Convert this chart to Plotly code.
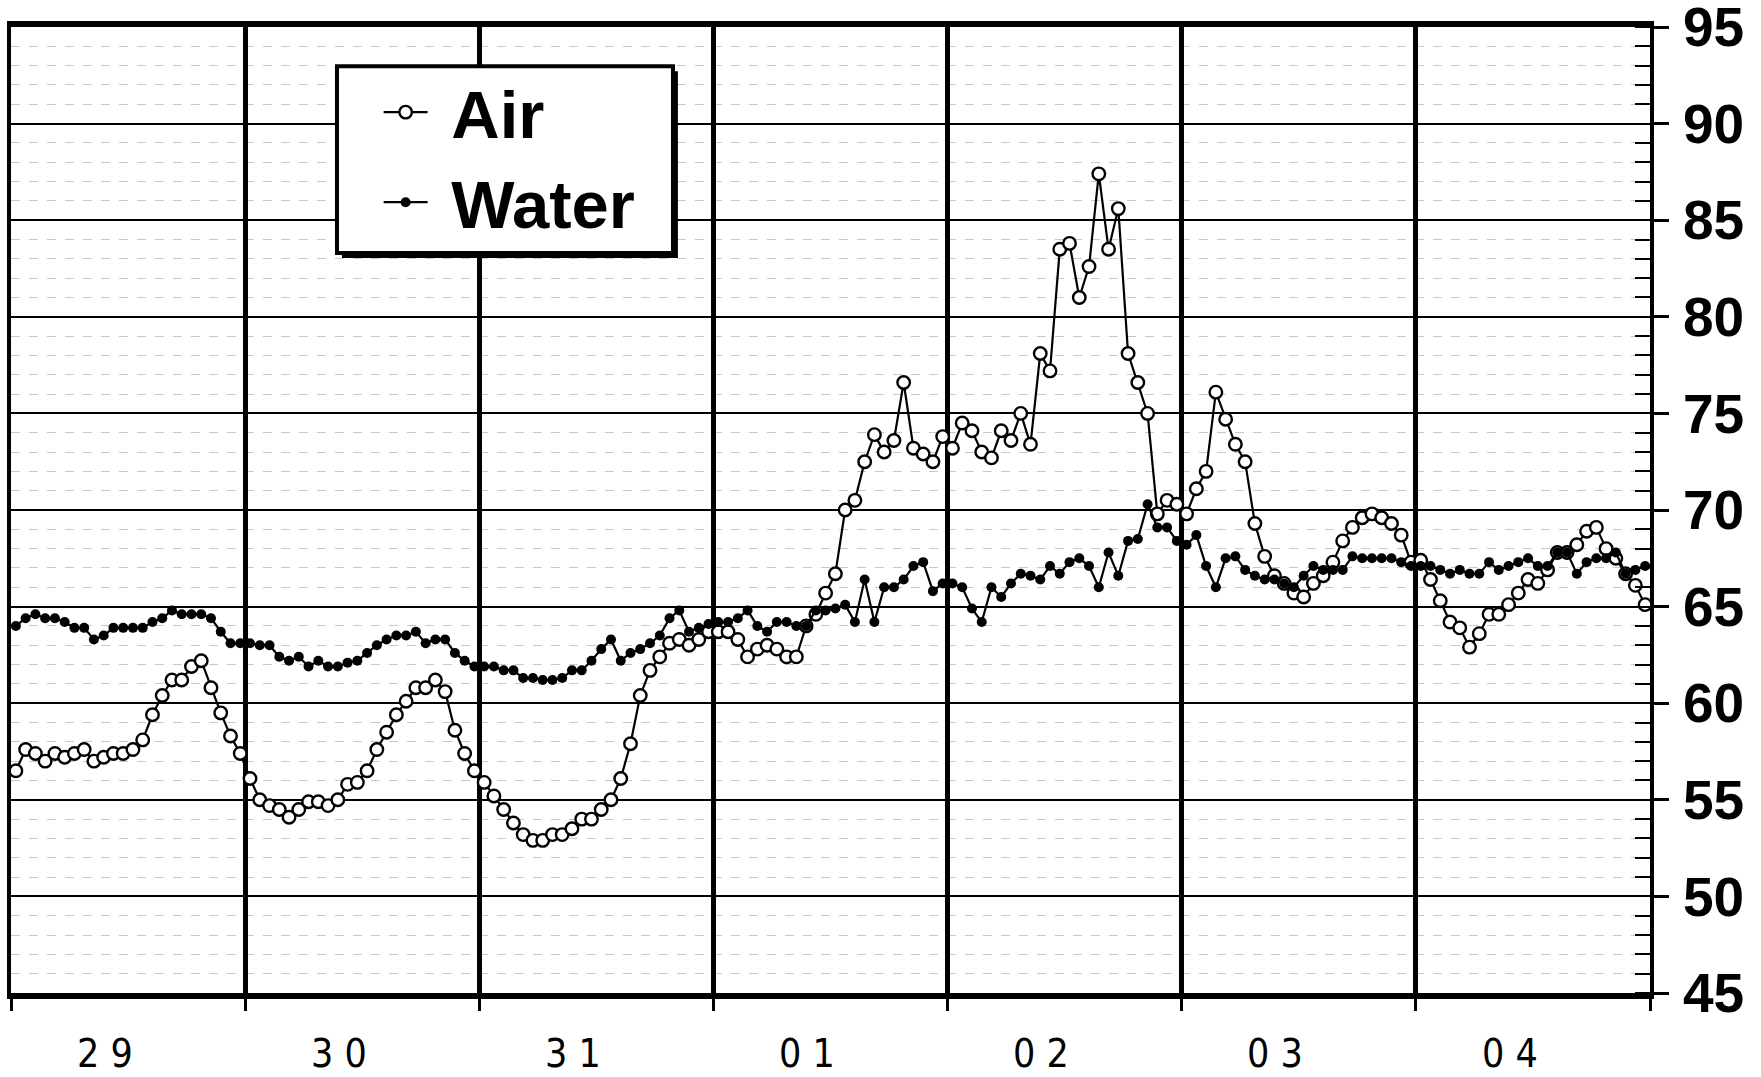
import plotly.graph_objects as go

# ---- data (hourly readings, 24 per day) ----
day_labels = ["2 9", "3 0", "3 1", "0 1", "0 2", "0 3", "0 4"]
series_names = ["Air", "Water"]

air_29 = [56.5, 57.6, 57.4, 57.0, 57.4, 57.2, 57.4, 57.6, 57.0, 57.2, 57.4, 57.4,
          57.6, 58.1, 59.4, 60.4, 61.2, 61.2, 61.9, 62.2, 60.8, 59.5, 58.3, 57.4]
air_30 = [56.1, 55.0, 54.7, 54.5, 54.1, 54.5, 54.9, 54.9, 54.7, 55.0, 55.8, 55.9,
          56.5, 57.6, 58.5, 59.4, 60.1, 60.8, 60.8, 61.2, 60.6, 58.6, 57.4, 56.5]
air_31 = [55.9, 55.2, 54.5, 53.8, 53.2, 52.9, 52.9, 53.2, 53.2, 53.5, 54.0, 54.0,
          54.5, 55.0, 56.1, 57.9, 60.4, 61.7, 62.4, 63.1, 63.3, 63.0, 63.3, 63.7]
air_01 = [63.7, 63.7, 63.3, 62.4, 62.8, 63.0, 62.8, 62.4, 62.4, 64.0, 64.6, 65.7,
          66.7, 70.0, 70.5, 72.5, 73.9, 73.0, 73.6, 76.6, 73.2, 72.9, 72.5, 73.8]
air_02 = [73.2, 74.5, 74.1, 73.0, 72.7, 74.1, 73.6, 75.0, 73.4, 78.1, 77.2, 83.5,
          83.8, 81.0, 82.6, 87.4, 83.5, 85.6, 78.1, 76.6, 75.0, 69.8, 70.5, 70.3]
air_03 = [69.8, 71.1, 72.0, 76.1, 74.7, 73.4, 72.5, 69.3, 67.6, 66.6, 66.2, 65.7,
          65.5, 66.2, 66.6, 67.3, 68.4, 69.1, 69.6, 69.8, 69.6, 69.3, 68.7, 67.3]
air_04 = [67.4, 66.4, 65.3, 64.2, 63.9, 62.9, 63.6, 64.6, 64.6, 65.1, 65.7, 66.4,
          66.2, 66.9, 67.8, 67.8, 68.2, 68.9, 69.1, 68.0, 67.5, 66.7, 66.1, 65.1]

water_29 = [64.0, 64.4, 64.6, 64.4, 64.4, 64.2, 63.9, 63.9, 63.3, 63.5, 63.9, 63.9,
            63.9, 63.9, 64.2, 64.4, 64.8, 64.6, 64.6, 64.6, 64.4, 63.7, 63.1, 63.1]
water_30 = [63.1, 63.0, 63.0, 62.4, 62.2, 62.4, 61.9, 62.2, 61.9, 61.9, 62.1, 62.2,
            62.6, 63.0, 63.3, 63.5, 63.5, 63.7, 63.1, 63.3, 63.3, 62.6, 62.2, 61.9]
water_31 = [61.9, 61.9, 61.7, 61.7, 61.3, 61.3, 61.2, 61.2, 61.3, 61.7, 61.7, 62.2,
            62.8, 63.3, 62.2, 62.6, 62.8, 63.1, 63.5, 64.4, 64.8, 63.7, 63.9, 64.1]
water_01 = [64.2, 64.2, 64.4, 64.8, 64.0, 63.7, 64.2, 64.2, 64.0, 64.0, 64.8, 64.8,
            64.9, 65.1, 64.2, 66.4, 64.2, 66.0, 66.0, 66.4, 67.1, 67.3, 65.8, 66.2]
water_02 = [66.2, 66.0, 64.9, 64.2, 66.0, 65.5, 66.2, 66.7, 66.6, 66.4, 67.1, 66.7,
            67.3, 67.5, 67.1, 66.0, 67.8, 66.6, 68.4, 68.5, 70.3, 69.1, 69.1, 68.4]
water_03 = [68.2, 68.7, 67.1, 66.0, 67.5, 67.6, 66.9, 66.6, 66.4, 66.4, 66.2, 66.0,
            66.6, 67.1, 66.9, 66.9, 66.9, 67.6, 67.5, 67.5, 67.5, 67.5, 67.3, 67.1]
water_04 = [67.1, 67.1, 66.9, 66.7, 66.9, 66.7, 66.7, 67.3, 66.9, 67.1, 67.3, 67.5,
            67.1, 67.1, 67.8, 67.8, 66.7, 67.3, 67.5, 67.5, 67.8, 66.7, 66.9, 67.1]

air = air_29 + air_30 + air_31 + air_01 + air_02 + air_03 + air_04
water = water_29 + water_30 + water_31 + water_01 + water_02 + water_03 + water_04
hours = [i + 0.5 for i in range(len(air))]  # mid-hour positions
n_days = len(day_labels)

fig = go.Figure()
fig.add_trace(go.Scatter(
    x=hours, y=air, name="\u00a0" + series_names[0], mode="lines+markers",
    line=dict(color="black", width=2.2),
    marker=dict(symbol="circle", size=12.5, color="white",
                line=dict(color="black", width=2.4)),
))
fig.add_trace(go.Scatter(
    x=hours, y=water, name="\u00a0" + series_names[1], mode="lines+markers",
    line=dict(color="black", width=2.2),
    marker=dict(symbol="circle", size=10, color="black"),
))

fig.update_layout(
    width=1761, height=1077, autosize=False,
    margin=dict(l=11, r=111, t=27, b=84, autoexpand=False),
    paper_bgcolor="white", plot_bgcolor="white",
    showlegend=True,
    legend=dict(
        x=0.2243, y=0.9637, xanchor="left", yanchor="top",
        bgcolor="rgba(0,0,0,0)", borderwidth=0,
        itemwidth=44, itemsizing="trace",
        font=dict(family="Liberation Sans", size=67, color="black", weight="bold"),
        tracegroupgap=0,
    ),
    xaxis=dict(
        range=[0, 24 * n_days], automargin=False,
        tickmode="array", tickvals=[24 * d for d in range(n_days + 1)],
        ticks="outside", ticklen=12, tickwidth=3, tickcolor="black",
        showticklabels=False,
        showgrid=True, gridcolor="black", gridwidth=4.5,
        showline=True, linecolor="black", linewidth=6, mirror=True,
        zeroline=False,
    ),
    yaxis=dict(
        side="right", range=[45, 95], automargin=False,
        tickmode="linear", tick0=45, dtick=5,
        ticks="outside", ticklen=15, tickwidth=3, tickcolor="black",
        ticklabelstandoff=3, ticklabeloverflow="allow",
        tickfont=dict(family="Liberation Sans", size=55, color="black", weight="bold"),
        showgrid=True, gridcolor="black", gridwidth=2,
        showline=True, linecolor="black", linewidth=4, mirror=True,
        zeroline=False,
        minor=dict(dtick=1, ticks="inside", ticklen=15, tickwidth=2, tickcolor="black",
                   showgrid=True, gridcolor="#c8c8c8", gridwidth=1, griddash="dash"),
    ),
)

# legend frame with drop shadow
fig.add_shape(type="rect", xref="paper", yref="paper",
              x0=0.2019, x1=0.4069, y0=0.7608, y1=0.9542,
              fillcolor="black", line=dict(width=0), layer="above")
fig.add_shape(type="rect", xref="paper", yref="paper",
              x0=0.1989, x1=0.4039, y0=0.7660, y1=0.9594,
              fillcolor="white", line=dict(color="black", width=4), layer="above")

# day labels under each day
for d, lab in enumerate(day_labels):
    fig.add_annotation(
        x=24 * d + 9.6, y=-0.0628, xref="x", yref="paper",
        text=lab, showarrow=False, xanchor="center", yanchor="middle",
        font=dict(family="Liberation Sans Narrow, DejaVu Sans Condensed, Liberation Sans",
                  size=39, color="black"),
    )

fig.write_html("out.html", config={"displayModeBar": False},
               post_script="document.body.style.margin='0';")
